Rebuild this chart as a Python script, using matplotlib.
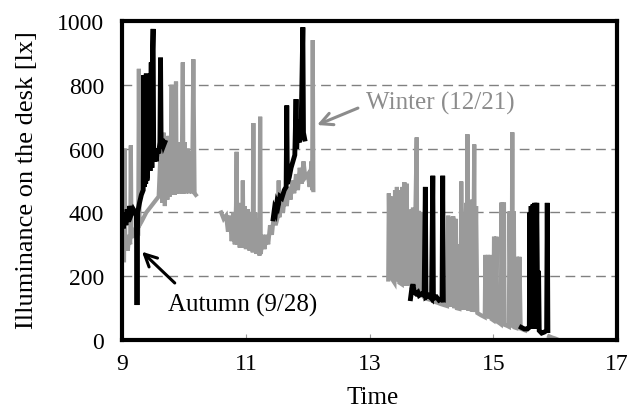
"""Desk illuminance on a winter and an autumn day."""

import matplotlib.pyplot as plt

plt.switch_backend("Agg")

# Winter (12/21), three occupied periods (hour, lx)
winter_am_t = [9.03, 9.04, 9.05, 9.07, 9.09, 9.11, 9.13, 9.14, 9.15, 9.18, 9.21, 9.24,
               9.26, 9.27, 9.28, 9.31, 9.35, 9.39, 9.43, 9.47, 9.51, 9.55, 9.59, 9.63,
               9.65, 9.67, 9.69, 9.71, 9.73, 9.75, 9.77, 9.79, 9.80, 9.81, 9.83, 9.85,
               9.87, 9.88, 9.90, 9.92, 9.94, 9.96, 9.98, 9.99, 10.01, 10.03, 10.06,
               10.08, 10.11, 10.13, 10.15, 10.17, 10.19]
winter_am_lx = [250, 600, 290, 330, 280, 320, 300, 610, 320, 340, 330, 350,
                345, 850, 360, 370, 385, 400, 410, 420, 430, 440, 450, 640,
                430, 650, 420, 620, 440, 640, 450, 600, 800, 455, 640, 455,
                810, 460, 620, 460, 600, 460, 870, 460, 620, 460, 600,
                460, 590, 460, 880, 460, 455]

winter_mid_t = [10.60, 10.64, 10.68, 10.71, 10.74, 10.77, 10.80, 10.82, 10.84, 10.85,
                10.86, 10.88, 10.90, 10.92, 10.94, 10.95, 10.96, 10.98, 11.00, 11.03,
                11.06, 11.09, 11.11, 11.12, 11.13, 11.15, 11.17, 11.20, 11.22, 11.23,
                11.24, 11.27, 11.30, 11.33, 11.36, 11.39, 11.42, 11.45, 11.48, 11.52,
                11.53, 11.54, 11.57, 11.60, 11.63, 11.66, 11.69, 11.72, 11.75, 11.78,
                11.81, 11.84, 11.87, 11.90, 11.93, 11.96, 12.00, 12.03, 12.06, 12.07,
                12.08, 12.09]
winter_mid_lx = [400, 380, 390, 340, 390, 310, 400, 300, 420, 590,
                 300, 430, 290, 410, 300, 500, 290, 420, 285, 410,
                 280, 400, 275, 680, 280, 400, 270, 380, 265, 700,
                 270, 330, 285, 330, 300, 360, 330, 390, 360, 390,
                 500, 385, 430, 400, 460, 420, 480, 440, 500, 460,
                 520, 470, 540, 490, 560, 510, 520, 480, 560, 470,
                 940, 470]

winter_pm_t = [13.30, 13.31, 13.33, 13.34, 13.35, 13.40, 13.41, 13.43, 13.44, 13.46,
               13.47, 13.48, 13.52, 13.53, 13.55, 13.56, 13.58, 13.60, 13.61, 13.66,
               13.68, 13.70, 13.72, 13.74, 13.76, 13.77, 13.79, 13.81, 13.83, 13.85,
               13.90, 13.95, 14.00, 14.05, 14.10, 14.15, 14.20, 14.25, 14.27, 14.29,
               14.31, 14.33, 14.35, 14.37, 14.39, 14.41, 14.45, 14.46, 14.47, 14.48,
               14.49, 14.51, 14.56, 14.57, 14.58, 14.59, 14.60, 14.62, 14.63, 14.65,
               14.66, 14.67, 14.69, 14.70, 14.72, 14.74, 14.80, 14.86, 14.87, 14.89,
               14.91, 14.93, 14.95, 14.97, 15.00, 15.01, 15.03, 15.05, 15.06, 15.10,
               15.12, 15.13, 15.15, 15.17, 15.18, 15.22, 15.25, 15.26, 15.28, 15.30,
               15.305, 15.315, 15.33, 15.34, 15.37, 15.38, 15.40, 15.42, 15.44, 15.52]
winter_pm_lx = [190, 460, 200, 450, 195, 180, 470, 185, 480, 185,
                470, 180, 175, 480, 175, 495, 170, 490, 170, 410,
                160, 415, 155, 410, 635, 150, 405, 145, 400, 140,
                130, 128, 125, 120, 117, 113, 110, 107, 390, 105,
                385, 105, 388, 100, 380, 100, 98, 300, 98, 497,
                290, 95, 430, 95, 645, 93, 430, 92, 440, 90,
                430, 90, 613, 88, 420, 85, 78, 72, 267, 70,
                267, 68, 267, 66, 62, 324, 60, 324, 58, 53,
                50, 431, 49, 431, 48, 45, 42, 403, 41, 403,
                651, 40, 403, 40, 38, 261, 37, 261, 36, 30]

winter_tail_t = [15.90, 15.95, 16.00, 16.06]
winter_tail_lx = [12, 8, 5, 0]

# Autumn (9/28)
autumn_am_t = [9.00, 9.02, 9.04, 9.06, 9.08, 9.10, 9.12, 9.15, 9.18, 9.21,
               9.23, 9.24, 9.25, 9.28, 9.31, 9.34, 9.35, 9.36, 9.37, 9.38,
               9.39, 9.40, 9.41, 9.43, 9.45, 9.47, 9.48, 9.49, 9.50, 9.51,
               9.53, 9.55, 9.57, 9.59, 9.61, 9.62, 9.63, 9.65, 9.67, 9.69]
autumn_am_lx = [380, 350, 400, 360, 410, 370, 420, 395, 410, 400,
                390, 110, 400, 430, 455, 470, 830, 480, 830, 490,
                835, 500, 520, 820, 530, 870, 540, 900, 975, 560,
                580, 560, 600, 585, 620, 885, 600, 630, 610, 620]

autumn_mid_t = [11.44, 11.46, 11.48, 11.50, 11.52, 11.55, 11.58, 11.62, 11.65, 11.66,
                11.67, 11.70, 11.73, 11.76, 11.79, 11.81, 11.82, 11.84, 11.86, 11.89,
                11.92, 11.93, 11.95]
autumn_mid_lx = [380, 410, 400, 430, 420, 450, 445, 470, 480, 735,
                 490, 510, 540, 560, 580, 755, 600, 690, 620, 640,
                 980, 650, 630]

autumn_pm_t = [13.66, 13.68, 13.70, 13.72, 13.75, 13.78, 13.80, 13.84, 13.88, 13.90,
               13.91, 13.95, 14.00, 14.02, 14.03, 14.08, 14.12, 14.17, 14.18, 14.19]
autumn_pm_lx = [130, 160, 175, 150, 145, 150, 140, 145, 140, 480,
                135, 140, 130, 515, 130, 135, 125, 130, 515, 125]

autumn_late_t = [15.45, 15.50, 15.55, 15.58, 15.59, 15.60, 15.61, 15.62, 15.64, 15.65,
                 15.67, 15.68, 15.70, 15.71, 15.73, 15.74, 15.78, 15.82, 15.86, 15.87,
                 15.88]
autumn_late_lx = [40, 35, 35, 40, 400, 35, 420, 40, 425, 40,
                  430, 35, 430, 210, 210, 30, 22, 25, 30, 430,
                  30]

winter_segments = [(winter_am_t, winter_am_lx), (winter_mid_t, winter_mid_lx),
                   (winter_pm_t, winter_pm_lx), (winter_tail_t, winter_tail_lx)]
autumn_segments = [(autumn_am_t, autumn_am_lx), (autumn_mid_t, autumn_mid_lx),
                   (autumn_pm_t, autumn_pm_lx), (autumn_late_t, autumn_late_lx)]

x_ticks = [9, 11, 13, 15, 17]
y_ticks = [0, 200, 400, 600, 800, 1000]

plt.rcParams["font.family"] = ["Liberation Serif", "DejaVu Serif"]

fig = plt.figure(figsize=(6.33, 4.14), dpi=100)
ax = fig.add_axes([0.193, 0.176, 0.782, 0.771])

for hours, lux in winter_segments:
    ax.plot(hours, lux, color="#9a9a9a", linewidth=3.0, solid_joinstyle="miter", zorder=2)
for hours, lux in autumn_segments:
    ax.plot(hours, lux, color="black", linewidth=3.5, solid_joinstyle="miter", zorder=3)

ax.set_xlim(9, 17)
ax.set_ylim(0, 1000)
ax.set_xticks(x_ticks)
ax.set_yticks(y_ticks)
ax.tick_params(axis="both", labelsize=17)
ax.tick_params(axis="x", direction="in", length=4, width=0.8, color="#999999", pad=9)
ax.tick_params(axis="y", length=0, pad=13)

for level in y_ticks[1:-1]:
    ax.axhline(level, color="#808080", linewidth=1.0, dashes=(7, 4), zorder=1)

for spine in ax.spines.values():
    spine.set_linewidth(3.0)
    spine.set_color("black")

ax.set_xlabel("Time", fontsize=18)
ax.set_ylabel("Illuminance on the desk [lx]", fontsize=19)
ax.xaxis.set_label_coords(0.505, -0.145)
ax.yaxis.set_label_coords(-0.17, 0.505)

# annotation arrows and labels
ax.annotate("", xy=(9.32, 277), xytext=(9.85, 179),
            arrowprops=dict(arrowstyle="->", color="black", lw=2.2,
                            mutation_scale=22, shrinkA=0, shrinkB=0))
ax.text(9.74, 113, "Autumn (9/28)", fontsize=18, color="black", va="center", ha="left")
ax.annotate("", xy=(12.15, 674), xytext=(12.81, 727),
            arrowprops=dict(arrowstyle="->", color="#8c8c8c", lw=2.2,
                            mutation_scale=22, shrinkA=0, shrinkB=0))
ax.text(12.94, 745, "Winter (12/21)", fontsize=18, color="#8c8c8c", va="center", ha="left")

fig.savefig("out.png", dpi=100)
plt.close(fig)
